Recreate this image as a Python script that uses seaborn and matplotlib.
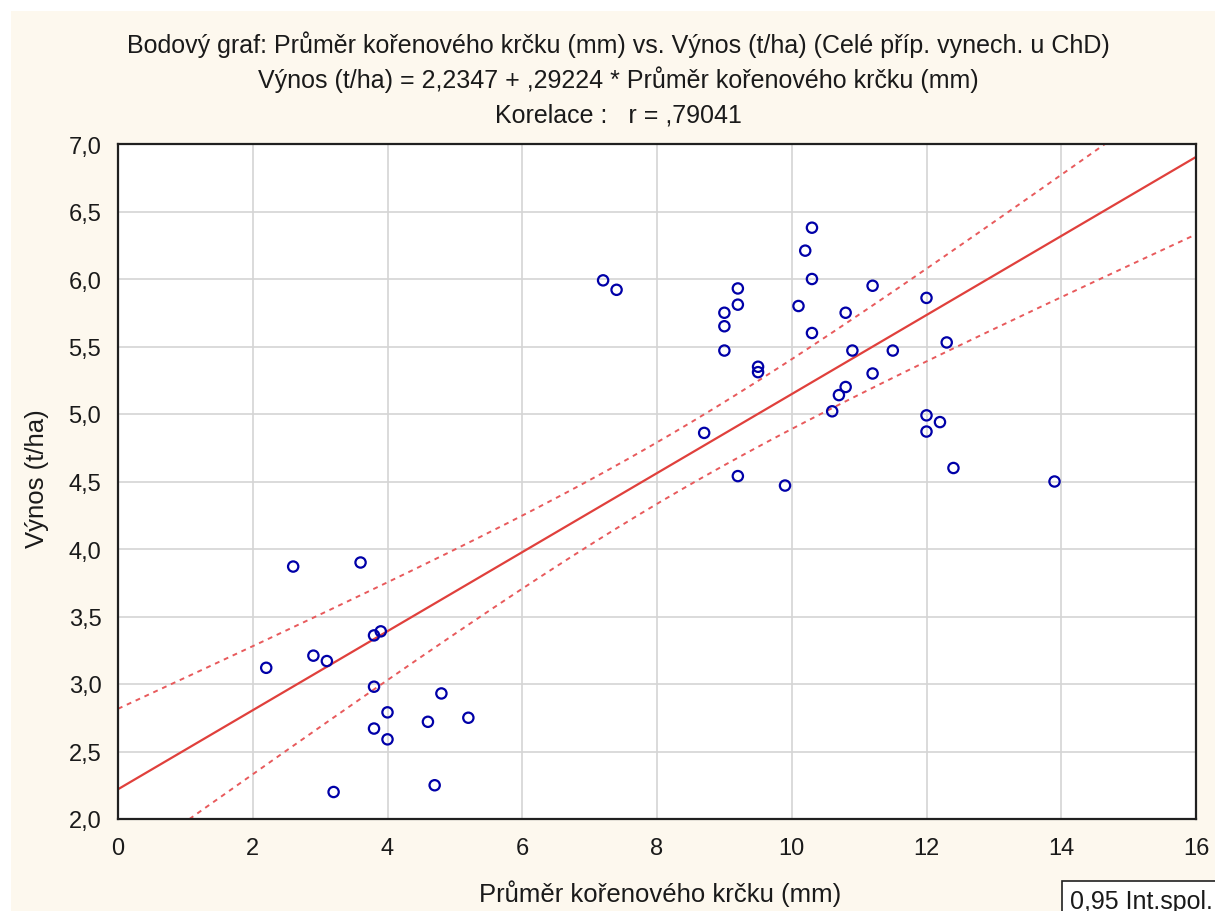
import matplotlib
matplotlib.use('Agg')
import matplotlib.pyplot as plt
from matplotlib.patches import Rectangle
import numpy as np
import pandas as pd
import seaborn as sns

# root collar diameter (mm) and yield (t/ha)
prumer = [2.2, 2.6, 2.9, 3.1, 3.2, 3.6, 3.8, 3.9, 3.8, 3.8, 4.0, 4.0, 4.6, 4.7, 4.8, 5.2,
          7.2, 7.4, 8.7, 9.0, 9.0, 9.0, 9.2, 9.2, 9.2, 9.5, 9.5, 9.9, 10.1, 10.2, 10.3,
          10.3, 10.3, 10.6, 10.7, 10.8, 10.8, 10.9, 11.2, 11.2, 11.5, 12.0, 12.0, 12.0,
          12.2, 12.3, 12.4, 13.9]
vynos = [3.12, 3.87, 3.21, 3.17, 2.20, 3.90, 3.36, 3.39, 2.98, 2.67, 2.79, 2.59, 2.72, 2.25, 2.93, 2.75,
         5.99, 5.92, 4.86, 5.75, 5.65, 5.47, 5.93, 5.81, 4.54, 5.35, 5.31, 4.47, 5.80, 6.21, 6.38,
         6.00, 5.60, 5.02, 5.14, 5.20, 5.75, 5.47, 5.95, 5.30, 5.47, 5.86, 4.99, 4.87,
         4.94, 5.53, 4.60, 4.50]

x_ticks = [0, 2, 4, 6, 8, 10, 12, 14, 16]
y_ticks = [2.0, 2.5, 3.0, 3.5, 4.0, 4.5, 5.0, 5.5, 6.0, 6.5, 7.0]

title_lines = ['Bodový graf: Průměr kořenového krčku (mm) vs. Výnos (t/ha) (Celé příp. vynech. u ChD)',
               'Výnos (t/ha) = 2,2347 + ,29224 * Průměr kořenového krčku (mm)',
               'Korelace :   r = ,79041']

df = pd.DataFrame({'x': prumer, 'y': vynos})

sns.set_style('white')
plt.rcParams['font.family'] = ['Liberation Sans', 'DejaVu Sans']

W, H = 1215, 912
fig = plt.figure(figsize=(W / 100, H / 100), dpi=100)
fig.patch.set_facecolor('#fdf8ee')
# thin white strip of the screenshot at the top and left
fig.add_artist(Rectangle((0, 1 - 12 / H), 1, 12 / H, transform=fig.transFigure, fc='white', ec='none', zorder=-5))
fig.add_artist(Rectangle((0, 0), 11 / W, 1, transform=fig.transFigure, fc='white', ec='none', zorder=-5))

ax = fig.add_axes([118 / W, 1 - 820 / H, (1196 - 118) / W, (820 - 145) / H])
ax.set_facecolor('white')

# regression line + 95% confidence band of the mean
x = np.array(prumer)
y = np.array(vynos)
n = len(x)
b, a = np.polyfit(x, y, 1)
res = y - (a + b * x)
s = np.sqrt(np.sum(res ** 2) / (n - 2))
sxx = np.sum((x - x.mean()) ** 2)
t = 2.0129  # t(0.975, 46)
xs = np.linspace(0, 16, 200)
fit = a + b * xs
half = t * s * np.sqrt(1 / n + (xs - x.mean()) ** 2 / sxx)

ax.plot(xs, fit, color='#e0403c', lw=1.6, zorder=2)
ax.plot(xs, fit + half, color='#e85a5c', lw=1.4, ls=(0, (2.5, 2.5)), zorder=2)
ax.plot(xs, fit - half, color='#e85a5c', lw=1.4, ls=(0, (2.5, 2.5)), zorder=2)

sns.scatterplot(data=df, x='x', y='y', ax=ax, marker='o', s=55,
                facecolor='none', edgecolor='#0000a8', linewidth=1.6, zorder=3)

ax.set_xlim(0, 16)
ax.set_ylim(2.0, 7.0)
ax.set_xticks(x_ticks)
ax.set_xticklabels([str(v) for v in x_ticks])
ax.set_yticks(y_ticks)
ax.set_yticklabels([f'{v:.1f}'.replace('.', ',') for v in y_ticks])
ax.tick_params(axis='both', labelsize=17, direction='in', length=4, width=1.2,
               color='#202020', labelcolor='#1a1a1a')
ax.tick_params(axis='x', pad=13)
ax.tick_params(axis='y', pad=12)
ax.grid(True, color='#d4d4d4', lw=1.2)
for sp in ax.spines.values():
    sp.set_color('#202020')
    sp.set_linewidth(1.6)

ax.set_xlabel('Průměr kořenového krčku (mm)', fontsize=18.5, color='#1a1a1a', va='baseline')
ax.xaxis.set_label_coords((660 - 118) / 1078, -(902 - 820) / 675)
ax.set_ylabel('Výnos (t/ha)', fontsize=18.5, color='#1a1a1a', va='center')
ax.yaxis.set_label_coords((37 - 118) / 1078, (820 - 479) / 675)

baselines = [53, 88, 122]
for line, yb in zip(title_lines, baselines):
    fig.text(618 / W, 1 - yb / H, line, ha='center', va='baseline', fontsize=18, color='#1a1a1a')

fig.text(1070 / W, 1 - 909 / H, '0,95 Int.spol.', ha='left', va='baseline', fontsize=18,
         color='#1a1a1a', bbox=dict(boxstyle='square,pad=0.33', fc='white', ec='#202020', lw=1.2))

fig.savefig('out.png', dpi=100, facecolor=fig.get_facecolor())
